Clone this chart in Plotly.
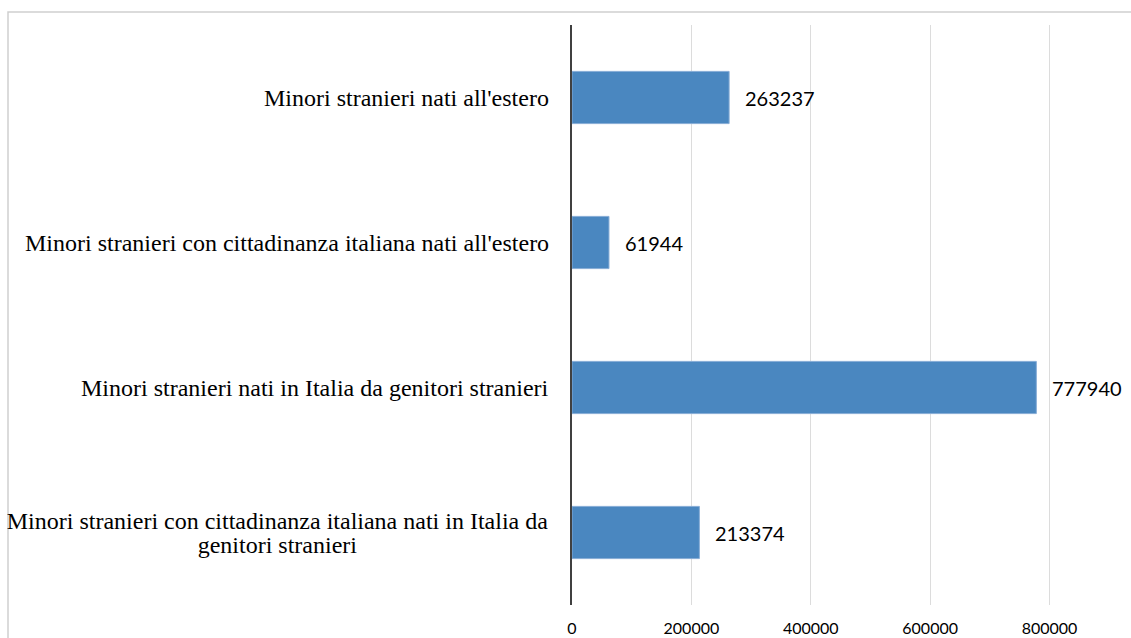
import plotly.graph_objects as go

categories = [
    "Minori stranieri nati all'estero",
    "Minori stranieri con cittadinanza italiana nati all'estero",
    "Minori stranieri nati in Italia da genitori stranieri",
    "Minori stranieri con cittadinanza italiana nati in Italia da<br>genitori stranieri",
]
values = [263237, 61944, 777940, 213374]
tick_values = [0, 200000, 400000, 600000, 800000]
tick_labels = ["0", "200000", "400000", "600000", "800000"]

W, H = 1131, 638
L, R, T, B = 572, 0, 25, 33
px_per_unit = 477.5 / 800000
x_max = (W - L - R) / px_per_unit

fig = go.Figure()
fig.add_trace(go.Bar(
    y=categories, x=values, orientation="h",
    width=0.36,
    marker=dict(color="#4a87c0", line=dict(color="#86acd6", width=1)),
    hoverinfo="skip",
))

cat_font = dict(family="Liberation Serif", size=24, color="#000000")
line_gap = 24
annotations = []
for c, v in zip(categories, values):
    annotations.append(dict(
        x=v, y=c, xref="x", yref="y", text=str(v), showarrow=False,
        xanchor="left", yanchor="middle", xshift=14,
        font=dict(family="Lato", size=20, color="#000000"),
    ))
    lines = c.split("<br>")
    n = len(lines)
    for i, ln in enumerate(lines):
        ys = ((n - 1) / 2 - i) * line_gap
        ann = dict(
            x=0, y=c, xref="paper", yref="y", text=ln, showarrow=False,
            xanchor="right", yanchor="middle", yshift=ys, font=cat_font,
        )
        if n > 1:
            ann.update(width=541, align="center", xshift=-22)
        else:
            ann.update(xshift=-21)
        annotations.append(ann)

pw = W - L - R
ph = H - T - B
fig.add_shape(type="rect", xref="paper", yref="paper",
              x0=(8 - L) / pw, x1=(W + 5 - L) / pw,
              y0=-0.2, y1=1 + (T - 12) / ph,
              line=dict(color="#cfcfcf", width=1.5), layer="below")

fig.update_layout(
    width=W, height=H,
    margin=dict(l=L, r=R, t=T, b=B),
    plot_bgcolor="white", paper_bgcolor="white",
    showlegend=False,
    annotations=annotations,
    xaxis=dict(
        range=[0, x_max], tickvals=tick_values, ticktext=tick_labels,
        showgrid=True, gridcolor="#dcdcdc", gridwidth=1,
        zeroline=False, showline=False, ticks="",
        tickfont=dict(family="Lato", size=16, color="#000000"),
        ticklabelstandoff=12,
    ),
    yaxis=dict(
        categoryorder="array", categoryarray=categories,
        autorange="reversed", showticklabels=False, ticks="",
        showgrid=False, zeroline=False,
        showline=True, linecolor="#404040", linewidth=1.5,
    ),
)

fig.write_html("out.html")
